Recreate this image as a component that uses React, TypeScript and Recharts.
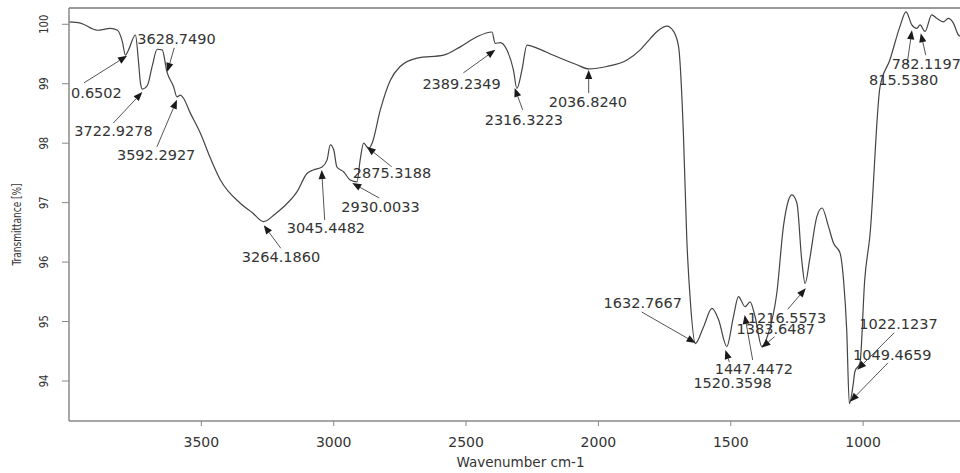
import React from 'react';
import { LineChart, Line, XAxis, YAxis, ReferenceDot, ReferenceLine } from 'recharts';

// Spectrum: wavenumber (cm-1) and transmittance (%)
const WAVENUMBERS = [4000, 3957, 3893, 3844, 3817, 3798, 3787, 3776, 3749, 3738, 3730, 3723, 3704, 3685, 3667, 3648, 3630, 3605, 3592, 3579, 3568, 3542, 3504, 3466, 3428, 3353, 3307, 3265, 3221, 3189, 3139, 3101, 3077, 3044, 3025, 3013, 3000, 2988, 2963, 2937, 2912, 2900, 2887, 2868, 2855, 2824, 2786, 2749, 2685, 2585, 2522, 2459, 2402, 2390, 2371, 2346, 2321, 2308, 2289, 2270, 2232, 2170, 2081, 2037, 1968, 1892, 1842, 1804, 1773, 1741, 1716, 1697, 1679, 1666, 1653, 1634, 1603, 1571, 1546, 1515, 1490, 1471, 1446, 1427, 1408, 1383, 1358, 1326, 1301, 1282, 1269, 1250, 1232, 1219, 1202, 1175, 1155, 1131, 1112, 1087, 1074, 1062, 1052, 1037, 1031, 1012, 994, 974, 936, 899, 861, 838, 816, 797, 785, 766, 741, 722, 697, 678, 659, 640, 634];
const TRANSMITTANCE = [100.04, 100.02, 99.90, 99.93, 99.90, 99.70, 99.48, 99.56, 99.82, 99.40, 99.01, 98.91, 98.97, 99.31, 99.58, 99.57, 99.20, 98.95, 98.78, 98.81, 98.76, 98.51, 98.17, 97.75, 97.38, 96.99, 96.83, 96.68, 96.81, 96.93, 97.18, 97.49, 97.55, 97.60, 97.72, 97.97, 97.89, 97.60, 97.52, 97.38, 97.35, 97.72, 98.00, 97.91, 98.00, 98.56, 99.06, 99.29, 99.43, 99.48, 99.62, 99.79, 99.87, 99.68, 99.69, 99.57, 99.23, 98.92, 99.23, 99.65, 99.60, 99.48, 99.32, 99.25, 99.29, 99.40, 99.57, 99.76, 99.90, 99.97, 99.88, 99.62, 98.17, 96.37, 95.36, 94.63, 94.91, 95.22, 95.03, 94.58, 95.08, 95.42, 95.25, 95.33, 95.08, 94.58, 94.80, 95.48, 96.60, 97.04, 97.13, 96.99, 96.04, 95.64, 96.04, 96.76, 96.91, 96.60, 96.32, 96.15, 95.70, 94.86, 93.62, 93.96, 94.16, 94.30, 95.70, 96.46, 98.95, 99.40, 99.96, 100.21, 99.99, 99.93, 99.99, 99.88, 100.16, 100.10, 100.04, 100.10, 100.02, 99.82, 99.80];

// Peak annotations (the first label is cut off at the plot edge in the original)
const PEAK_WN = [3780.6502, 3722.9278, 3628.749, 3592.2927, 3264.186, 3045.4482, 2930.0033, 2875.3188, 2389.2349, 2316.3223, 2036.824, 1632.7667, 1520.3598, 1447.4472, 1383.6487, 1216.5573, 1049.4659, 1022.1237, 815.538, 782.1197];
const PEAK_T = [99.47, 98.86, 99.2, 98.73, 96.62, 97.55, 97.33, 97.94, 99.57, 98.93, 99.23, 94.64, 94.52, 95.11, 94.56, 95.56, 93.65, 94.19, 99.9, 99.85];
const PEAK_LABELS = ['0.6502', '3722.9278', '3628.7490', '3592.2927', '3264.1860', '3045.4482', '2930.0033', '2875.3188', '2389.2349', '2316.3223', '2036.8240', '1632.7667', '1520.3598', '1447.4472', '1383.6487', '1216.5573', '1049.4659', '1022.1237', '815.5380', '782.1197'];

const X_TICKS = [3500, 3000, 2500, 2000, 1500, 1000];
const Y_TICKS = [94, 95, 96, 97, 98, 99, 100];
const X_DOMAIN = [634, 4000];
const Y_DOMAIN = [93.327, 100.274];

// Layout of annotation callouts (pixel offsets relative to arrow tip)
const CALLOUT_LAYOUT = [
  { lx: -43, ly: 27, tx: -56, ty: 37, anchor: 'start' },
  { lx: -29, ly: 31, tx: -68, ty: 39, anchor: 'start' },
  { lx: 7, ly: -24, tx: -30, ty: -33, anchor: 'start' },
  { lx: -20, ly: 47, tx: -60, ty: 55, anchor: 'start' },
  { lx: 17, ly: 23, tx: -22, ty: 32, anchor: 'start' },
  { lx: 3, ly: 50, tx: -35, ty: 58, anchor: 'start' },
  { lx: 27, ly: 15, tx: -11, ty: 24, anchor: 'start' },
  { lx: 25, ly: 20, tx: -14, ty: 26, anchor: 'start' },
  { lx: -32, ly: 23, tx: -73, ty: 34, anchor: 'start' },
  { lx: 8, ly: 22, tx: -30, ty: 32, anchor: 'start' },
  { lx: 0, ly: 23, tx: -40, ty: 32, anchor: 'start' },
  { lx: -54, ly: -31, tx: -92, ty: -40, anchor: 'start' },
  { lx: 4, ly: 12, tx: -32, ty: 33, anchor: 'start' },
  { lx: 8, ly: 45, tx: -30, ty: 54, anchor: 'start' },
  { lx: 13, ly: -11, tx: -25, ty: -19, anchor: 'start' },
  { lx: -18, ly: 21, tx: -58, ty: 30, anchor: 'start' },
  { lx: 38, ly: -39, tx: 3, ty: -47, anchor: 'start' },
  { lx: 37, ly: -37, tx: 2, ty: -46, anchor: 'start' },
  { lx: -5, ly: 35, tx: -43, ty: 50, anchor: 'start' },
  { lx: 5, ly: 22, tx: -29, ty: 31, anchor: 'start' },
];

const data = WAVENUMBERS.map((wn, i) => ({ wn, t: TRANSMITTANCE[i] }));

const FONT = '"DejaVu Sans", Verdana, sans-serif';

function makeCallout(label: string, layout: any) {
  return (props: any) => {
    const { cx, cy } = props;
    if (cx == null || cy == null) return <g />;
    const sx = cx + layout.lx;
    const sy = cy + layout.ly;
    const dx = cx - sx;
    const dy = cy - sy;
    const len = Math.sqrt(dx * dx + dy * dy) || 1;
    const ux = dx / len;
    const uy = dy / len;
    const ah = 9;
    const aw = 3.6;
    const bx = cx - ux * ah;
    const by = cy - uy * ah;
    const p1 = `${cx},${cy}`;
    const p2 = `${bx - uy * aw},${by + ux * aw}`;
    const p3 = `${bx + uy * aw},${by - ux * aw}`;
    return (
      <g>
        <line x1={sx} y1={sy} x2={bx} y2={by} stroke="#555" strokeWidth={1} />
        <polygon points={`${p1} ${p2} ${p3}`} fill="#1a1a1a" />
        <text
          x={cx + layout.tx}
          y={cy + layout.ty + 5}
          textAnchor={layout.anchor}
          fontFamily={FONT}
          fontSize={14.5}
          fill="#333"
        >
          {label}
        </text>
      </g>
    );
  };
}

const XTick = (props: any) => {
  const { x, payload } = props;
  return (
    <text x={x} y={447} textAnchor="middle" fontFamily={FONT} fontSize={14} fill="#333">
      {payload.value}
    </text>
  );
};

const YTick = (props: any) => {
  const { y, payload } = props;
  return (
    <text
      transform={`translate(44,${y}) scale(1.3,1) rotate(-90)`}
      textAnchor="middle"
      dominantBaseline="central"
      fontFamily={FONT}
      fontSize={10}
      fill="#333"
    >
      {payload.value}
    </text>
  );
};

const YTitle = (props: any) => {
  const vb = props.viewBox || { x: 0, y: 8, width: 69, height: 413 };
  const cy = vb.y + vb.height / 2 + 10;
  return (
    <text
      transform={`translate(17,${cy}) scale(1.35,1) rotate(-90)`}
      textAnchor="middle"
      dominantBaseline="central"
      fontFamily={FONT}
      fontSize={9}
      fill="#333"
    >
      Transmittance [%]
    </text>
  );
};

const XTitle = (props: any) => {
  const vb = props.viewBox || { x: 69, y: 421, width: 891, height: 52 };
  const cx = vb.x + vb.width / 2 + 6;
  return (
    <text x={cx} y={467} textAnchor="middle" fontFamily={FONT} fontSize={13.5} fill="#333">
      Wavenumber cm-1
    </text>
  );
};

export default function App() {
  return (
    <div style={{ position: 'absolute', left: 0, top: 0, width: 960, height: 473, overflow: 'hidden', background: '#fff' }}>
      <LineChart width={960} height={473} data={data} margin={{ top: 8, right: 0, bottom: 0, left: 0 }}>
        <XAxis
          dataKey="wn"
          type="number"
          domain={X_DOMAIN}
          reversed
          ticks={X_TICKS}
          allowDataOverflow
          height={52}
          tickSize={5}
          tick={<XTick />}
          axisLine={{ stroke: '#888', strokeWidth: 1.5 }}
          tickLine={{ stroke: '#888' }}
          label={<XTitle />}
        />
        <YAxis
          type="number"
          domain={Y_DOMAIN}
          ticks={Y_TICKS}
          allowDataOverflow
          width={69}
          tickSize={7}
          tick={<YTick />}
          axisLine={{ stroke: '#888', strokeWidth: 1.5 }}
          tickLine={{ stroke: '#888' }}
          label={<YTitle />}
        />
        <ReferenceLine y={Y_DOMAIN[1]} stroke="#999" strokeWidth={2} ifOverflow="extendDomain" />
        <Line
          dataKey="t"
          type="monotone"
          stroke="#444"
          strokeWidth={1.2}
          dot={false}
          activeDot={false}
          isAnimationActive={false}
        />
        {PEAK_WN.map((wn, i) => (
          <ReferenceDot
            key={PEAK_LABELS[i]}
            x={wn}
            y={PEAK_T[i]}
            r={0}
            ifOverflow="visible"
            shape={makeCallout(PEAK_LABELS[i], CALLOUT_LAYOUT[i])}
          />
        ))}
      </LineChart>
    </div>
  );
}
